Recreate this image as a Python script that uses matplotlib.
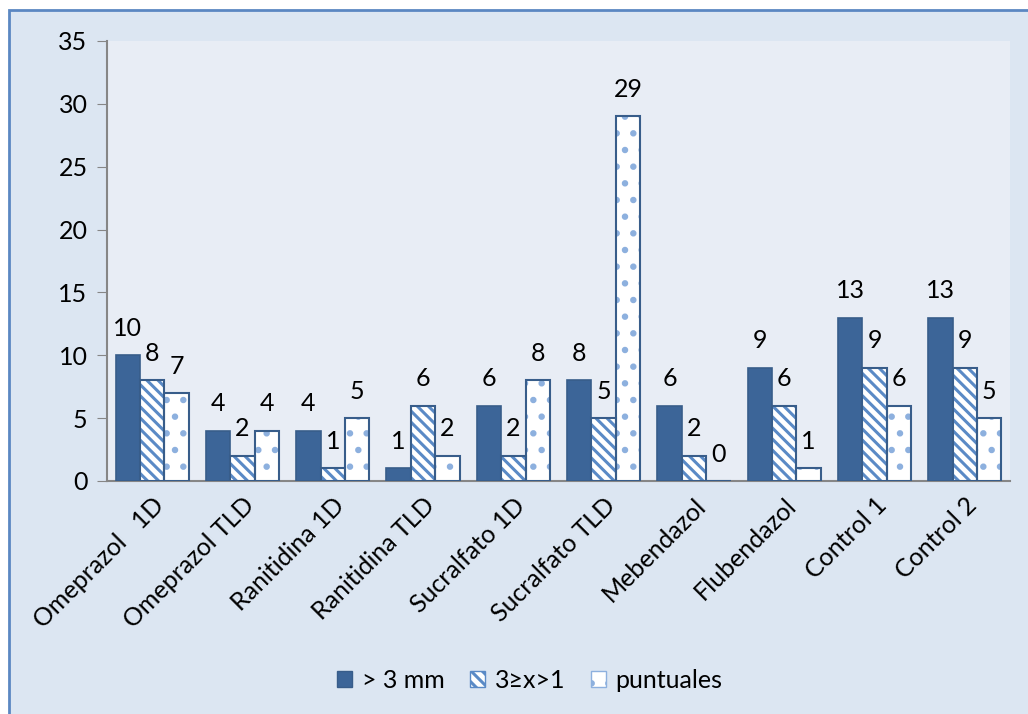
import numpy as np
import matplotlib.pyplot as plt
from matplotlib.patches import Rectangle, Patch

# data per treatment
categories = ["Omeprazol   1D", "Omeprazol TLD", "Ranitidina 1D", "Ranitidina TLD",
              "Sucralfato 1D", "Sucralfato TLD", "Mebendazol", "Flubendazol",
              "Control 1", "Control 2"]
mayor_3mm = [10, 4, 4, 1, 6, 8, 6, 9, 13, 13]
entre_3_1 = [8, 2, 1, 6, 2, 5, 2, 6, 9, 9]
puntuales = [7, 4, 5, 2, 8, 29, 0, 1, 6, 5]
series_names = ["> 3 mm", "3\u2265x>1", "puntuales"]

FONT = ["Lato", "DejaVu Sans"]
plt.rcParams["font.family"] = FONT
plt.rcParams["hatch.linewidth"] = 2.2

dark = "#3C6598"
edge = "#385D8A"
stripe = "#5A8AC6"
dots = "#8DB0DE"
FS = 18

fig = plt.figure(figsize=(10.28, 7.14), dpi=100, facecolor="white")
# chart area background with border
fig.patches.append(Rectangle((9 / 1028, -0.05), 1.05, 1 - 10 / 714 + 0.05,
                             transform=fig.transFigure, facecolor="#DCE6F2",
                             edgecolor="#5B87C2", linewidth=2, zorder=-10))

ax = fig.add_axes([107 / 1028, 1 - 481 / 714, (1010 - 107) / 1028, (481 - 41) / 714])
ax.set_facecolor("#E8EDF5")

x = np.arange(len(categories))
w = 0.27

b1 = ax.bar(x - w, mayor_3mm, w, color=dark, edgecolor=edge, linewidth=1.2, zorder=3)
# striped series: hatch first, then outline on top
ax.bar(x, entre_3_1, w, color="white", edgecolor=stripe, hatch="\\\\\\", linewidth=0, zorder=3)
b2 = ax.bar(x, entre_3_1, w, color="none", edgecolor=edge, linewidth=1.5, zorder=4)
ax.bar(x + w, puntuales, w, color="white", edgecolor=dots, hatch=".", linewidth=0, zorder=3)
b3 = ax.bar(x + w, puntuales, w, color="none", edgecolor=edge, linewidth=1.5, zorder=4)

for bars, vals in ((b1, mayor_3mm), (b2, entre_3_1), (b3, puntuales)):
    for r, v in zip(bars, vals):
        ax.annotate(str(v), (r.get_x() + r.get_width() / 2, v), xytext=(0, 14),
                    textcoords="offset points", ha="center", va="baseline",
                    fontsize=FS, family=FONT)

ax.set_xlim(-0.5, len(categories) - 0.5)
ax.set_ylim(0, 35)
ax.set_yticks(range(0, 36, 5))
ax.set_xticks(x)
ax.set_xticklabels(categories, rotation=45, ha="right", rotation_mode="anchor", fontsize=FS)
ax.tick_params(axis="y", labelsize=FS, length=7, color="#868686", pad=7)
ax.tick_params(axis="x", length=0, pad=9)
for s in ("top", "right"):
    ax.spines[s].set_visible(False)
for s in ("left", "bottom"):
    ax.spines[s].set_color("#868686")
    ax.spines[s].set_linewidth(1.5)

handles = [Patch(facecolor=dark, edgecolor=edge),
           Patch(facecolor="white", edgecolor=stripe, hatch="\\\\\\"),
           Patch(facecolor="white", edgecolor=dots, hatch=".")]
fig.legend(handles, series_names, loc="center", bbox_to_anchor=(530 / 1028, 1 - 680 / 714),
           ncol=3, frameon=False, fontsize=FS, handlelength=0.6, handleheight=0.6,
           handletextpad=0.4, columnspacing=1.0)

fig.savefig("out.png", dpi=100, facecolor=fig.get_facecolor())
